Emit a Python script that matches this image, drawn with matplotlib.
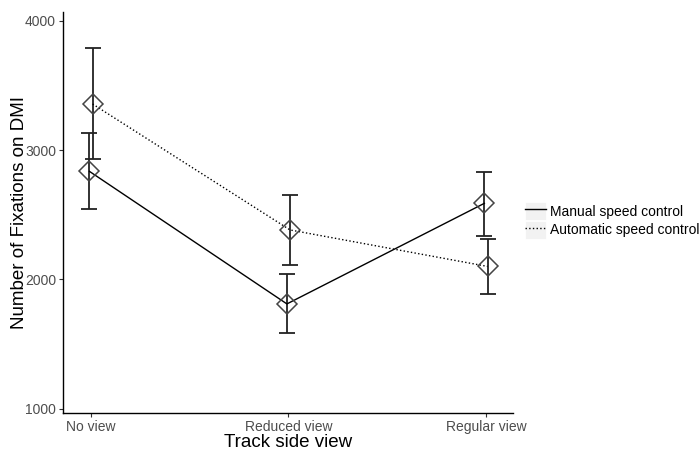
import matplotlib
matplotlib.use("Agg")
import matplotlib.pyplot as plt
from matplotlib.lines import Line2D
from matplotlib.patches import Patch
from matplotlib.legend_handler import HandlerTuple
import numpy as np

plt.rcParams['font.family'] = ['Liberation Sans', 'DejaVu Sans']

categories = ["No view", "Reduced view", "Regular view"]
manual_mean = [2835, 1810, 2588]
manual_upper = [3133, 2039, 2831]
manual_lower = [2545, 1582, 2333]
auto_mean = [3356, 2382, 2100]
auto_upper = [3787, 2655, 2312]
auto_lower = [2931, 2108, 1889]
series_names = ["Manual speed control", "Automatic speed control"]
yticks = [1000, 2000, 3000, 4000]

fig = plt.figure(figsize=(6.99, 4.55), dpi=100)
ax = fig.add_axes([63/699, (455-413.3)/455, 450/699, (413.3-11.7)/455])

x = np.arange(1, len(categories)+1)
dodge = 0.008
for xs, mean, up, lo, ls in [
        (x - dodge, manual_mean, manual_upper, manual_lower, '-'),
        (x + dodge, auto_mean, auto_upper, auto_lower, ':')]:
    mean = np.array(mean); up = np.array(up); lo = np.array(lo)
    ax.errorbar(xs, mean, yerr=[mean - lo, up - mean], fmt='none',
                ecolor='#222222', elinewidth=1.3, capsize=5.5, capthick=1.3, zorder=2)
    ax.plot(xs, mean, color='black', ls=ls, lw=1.0, zorder=3)
    ax.plot(xs, mean, ls='none', marker='D', ms=10.5, mfc='none', mec='#444444',
            mew=1.1, zorder=4)

ax.set_xlim(0.858, 3.137)
ax.set_ylim(964, 4070)
ax.set_xticks(x)
ax.set_xticklabels(categories)
ax.set_yticks(yticks)
ax.tick_params(axis='both', labelsize=10, labelcolor='#4D4D4D', color='#333333',
               length=3, width=0.8, pad=2)
for s in ['top', 'right']:
    ax.spines[s].set_visible(False)
for s in ['left', 'bottom']:
    ax.spines[s].set_linewidth(1.0)
    ax.spines[s].set_color('black')

ax.set_xlabel("Track side view", fontsize=13.5, labelpad=0)
ax.set_ylabel("Number of Fixations on DMI", fontsize=13.5, labelpad=-2)

handles = [
    (Patch(facecolor='#F2F2F2', edgecolor='white', linewidth=0.6),
     Line2D([], [], color='black', ls='-', lw=1.0)),
    (Patch(facecolor='#F2F2F2', edgecolor='white', linewidth=0.6),
     Line2D([], [], color='black', ls=':', lw=1.0)),
]
fig.legend(handles, series_names, handler_map={tuple: HandlerTuple(ndivide=1, pad=0)},
           loc='upper left', bbox_to_anchor=(524/699, 1 - 201/455), frameon=False,
           fontsize=10, handlelength=1.5, handleheight=1.6, handletextpad=0.3,
           labelspacing=0.05, borderpad=0.1, borderaxespad=0)

fig.savefig("out.png", dpi=100)
